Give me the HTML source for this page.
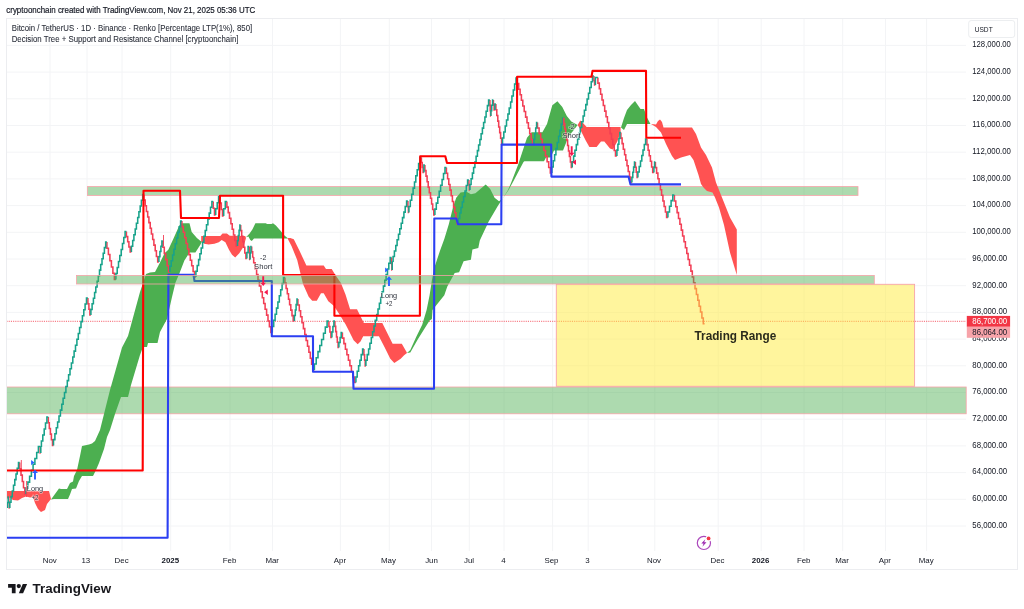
<!DOCTYPE html>
<html><head><meta charset="utf-8"><title>BTCUSDT chart</title>
<style>
html,body{margin:0;padding:0;background:#fff;}
body{width:1024px;height:609px;overflow:hidden;position:relative;font-family:"Liberation Sans",sans-serif;}
svg{position:absolute;left:0;top:0;will-change:transform;filter:blur(0.35px);}
text{font-family:"Liberation Sans",sans-serif;}
.g{stroke:#f3f4f6;stroke-width:1;}
.ax{font-size:8.2px;fill:#131722;}
.tx{font-size:7.9px;fill:#131722;}
.b{font-weight:bold;}
.mk{font-size:7.8px;fill:#2e323c;paint-order:stroke;stroke:#fff;stroke-opacity:.55;stroke-width:1.4px;}
</style></head><body>
<svg width="1024" height="609" viewBox="0 0 1024 609">
<rect x="0" y="0" width="1024" height="609" fill="#fff"/>
<line x1="50" y1="18.5" x2="50" y2="551" class="g"/>
<line x1="87" y1="18.5" x2="87" y2="551" class="g"/>
<line x1="122" y1="18.5" x2="122" y2="551" class="g"/>
<line x1="170.7" y1="18.5" x2="170.7" y2="551" class="g"/>
<line x1="230" y1="18.5" x2="230" y2="551" class="g"/>
<line x1="272.5" y1="18.5" x2="272.5" y2="551" class="g"/>
<line x1="340.4" y1="18.5" x2="340.4" y2="551" class="g"/>
<line x1="389.3" y1="18.5" x2="389.3" y2="551" class="g"/>
<line x1="431.5" y1="18.5" x2="431.5" y2="551" class="g"/>
<line x1="469.3" y1="18.5" x2="469.3" y2="551" class="g"/>
<line x1="504" y1="18.5" x2="504" y2="551" class="g"/>
<line x1="552.6" y1="18.5" x2="552.6" y2="551" class="g"/>
<line x1="588.2" y1="18.5" x2="588.2" y2="551" class="g"/>
<line x1="654.8" y1="18.5" x2="654.8" y2="551" class="g"/>
<line x1="718.2" y1="18.5" x2="718.2" y2="551" class="g"/>
<line x1="761.2" y1="18.5" x2="761.2" y2="551" class="g"/>
<line x1="804" y1="18.5" x2="804" y2="551" class="g"/>
<line x1="842.7" y1="18.5" x2="842.7" y2="551" class="g"/>
<line x1="885.5" y1="18.5" x2="885.5" y2="551" class="g"/>
<line x1="926.6" y1="18.5" x2="926.6" y2="551" class="g"/>
<line x1="6.5" y1="45.4" x2="966.0" y2="45.4" class="g"/>
<line x1="6.5" y1="72.1" x2="966.0" y2="72.1" class="g"/>
<line x1="6.5" y1="98.8" x2="966.0" y2="98.8" class="g"/>
<line x1="6.5" y1="125.5" x2="966.0" y2="125.5" class="g"/>
<line x1="6.5" y1="152.2" x2="966.0" y2="152.2" class="g"/>
<line x1="6.5" y1="178.9" x2="966.0" y2="178.9" class="g"/>
<line x1="6.5" y1="205.6" x2="966.0" y2="205.6" class="g"/>
<line x1="6.5" y1="232.3" x2="966.0" y2="232.3" class="g"/>
<line x1="6.5" y1="259.0" x2="966.0" y2="259.0" class="g"/>
<line x1="6.5" y1="285.7" x2="966.0" y2="285.7" class="g"/>
<line x1="6.5" y1="312.4" x2="966.0" y2="312.4" class="g"/>
<line x1="6.5" y1="339.1" x2="966.0" y2="339.1" class="g"/>
<line x1="6.5" y1="365.8" x2="966.0" y2="365.8" class="g"/>
<line x1="6.5" y1="392.5" x2="966.0" y2="392.5" class="g"/>
<line x1="6.5" y1="419.2" x2="966.0" y2="419.2" class="g"/>
<line x1="6.5" y1="445.9" x2="966.0" y2="445.9" class="g"/>
<line x1="6.5" y1="472.6" x2="966.0" y2="472.6" class="g"/>
<line x1="6.5" y1="499.3" x2="966.0" y2="499.3" class="g"/>
<line x1="6.5" y1="526.0" x2="966.0" y2="526.0" class="g"/>
<rect x="87.5" y="186.6" width="770.5" height="8.800000000000011" fill="#4caf50" fill-opacity="0.46" stroke="#f7a3a8" stroke-width="0.8"/>
<rect x="6.5" y="387.0" width="959.7" height="26.80000000000001" fill="#4caf50" fill-opacity="0.46" stroke="#f7a3a8" stroke-width="0.8"/>
<line x1="6.5" y1="321.3" x2="966.0" y2="321.3" stroke="#f23645" stroke-width="0.8" stroke-dasharray="1.1 1.1"/>
<polygon points="6.5,491.0 49.0,491.0 51.0,499.0 51.0,499.0 47.0,504.0 45.0,510.0 41.0,512.0 38.0,509.0 35.0,503.0 33.0,497.0 30.0,497.5 26.0,496.5 22.0,498.0 18.0,500.5 13.0,500.0 10.0,497.5 6.5,499.0" fill="#ff5252"/>
<polygon points="51.0,499.5 55.0,494.0 59.0,488.5 61.0,489.0 67.0,489.0 70.0,483.0 73.0,481.5 74.0,476.0 77.0,470.0 80.0,456.0 82.0,446.0 89.0,444.5 92.0,443.5 95.0,441.0 100.0,430.0 110.0,390.0 122.0,347.5 128.0,336.0 140.0,292.0 144.0,280.0 146.0,274.0 150.0,272.5 155.0,272.0 160.0,262.5 164.6,253.3 168.3,249.7 173.4,238.7 179.3,225.5 181.5,223.3 189.5,223.3 191.7,232.0 196.9,238.0 200.5,241.0 202.0,241.5 202.0,241.5 200.5,244.5 195.4,252.6 189.5,252.6 184.4,260.6 179.3,273.8 175.5,282.5 172.0,297.0 167.0,319.0 160.0,332.0 157.5,343.0 148.0,343.0 147.0,347.0 143.0,347.0 140.0,355.0 131.0,385.0 128.0,397.0 121.0,397.0 115.0,414.0 110.0,430.0 107.0,437.0 104.0,449.0 99.0,463.0 96.0,470.0 93.0,476.0 82.0,476.0 79.0,481.0 76.0,488.5 72.0,489.0 70.0,494.5 68.0,499.0 54.0,499.0 51.0,499.5" fill="#4caf50"/>
<polygon points="201.2,236.0 220.3,236.0 222.5,233.5 226.9,233.5 229.8,235.7 245.2,236.0 246.0,238.0 246.0,238.0 245.2,240.9 243.0,247.5 239.3,253.3 235.2,257.4 232.0,254.8 229.0,249.7 225.4,242.3 221.7,240.1 218.8,242.3 214.4,243.8 208.6,244.5 204.2,243.8 201.2,241.6" fill="#ff5252"/>
<polygon points="246.0,237.2 249.6,233.5 252.5,229.2 255.4,223.3 265.7,223.3 267.1,224.0 271.5,224.0 273.0,223.3 275.9,225.5 280.3,230.6 284.7,235.7 287.6,238.0 287.6,238.4 254.0,238.4 251.8,240.9 250.3,240.1 248.4,236.5 246.0,237.2" fill="#4caf50"/>
<polygon points="287.6,238.0 290.3,238.0 293.8,239.2 299.5,250.7 306.4,265.6 323.7,265.6 326.0,269.0 331.7,269.0 335.2,274.8 340.9,282.9 345.5,294.4 350.1,309.3 357.0,309.3 363.9,323.1 382.3,323.1 392.6,343.8 401.8,343.8 406.4,351.8 407.0,353.0 407.0,353.0 404.1,355.3 400.7,358.7 394.3,362.9 390.3,358.7 384.6,347.2 378.9,336.2 363.2,336.2 360.5,341.5 357.7,344.3 353.6,340.3 349.0,331.1 345.5,324.3 339.8,315.0 334.0,305.9 328.3,301.3 323.7,293.2 321.0,293.2 316.8,300.8 312.2,300.8 308.7,296.7 303.0,284.0 297.2,260.0 291.5,246.0 287.6,238.4" fill="#ff5252"/>
<polygon points="407.0,353.0 410.3,350.0 416.3,336.7 422.2,324.8 426.6,310.0 429.6,295.3 431.9,280.5 434.0,268.7 439.9,251.0 444.3,239.1 448.8,224.3 453.2,206.6 456.2,197.7 460.6,192.4 466.5,191.8 470.9,194.2 475.4,193.3 485.7,184.4 490.2,188.9 494.6,197.7 499.0,201.3 502.5,198.8 502.5,198.8 497.5,206.6 488.7,221.4 479.8,240.6 478.3,248.0 472.4,249.5 470.9,259.8 463.6,261.3 459.1,272.2 454.7,273.1 447.3,286.4 444.3,295.3 432.5,310.0 431.9,318.9 429.6,320.4 417.7,339.6 410.3,352.4 407.0,353.0" fill="#4caf50"/>
<polygon points="502.5,198.8 508.0,190.0 511.0,183.0 518.0,165.0 527.0,137.8 531.6,132.3 542.4,132.3 547.0,124.0 552.3,105.3 557.4,101.3 562.3,107.0 566.8,116.0 571.3,121.5 577.6,125.0 577.6,125.0 573.0,131.0 568.0,137.0 566.0,143.0 563.0,150.4 554.0,150.4 550.5,157.6 546.0,157.6 544.0,161.2 524.4,161.2 523.5,162.0 513.5,181.0 508.6,190.0 502.5,198.8" fill="#4caf50"/>
<polygon points="577.6,125.0 580.3,120.6 583.0,123.0 586.6,127.0 620.6,127.0 620.6,127.0 620.6,132.3 617.3,141.4 612.8,149.5 610.0,148.6 604.3,141.4 601.0,141.4 596.6,147.0 589.4,147.0 585.7,140.5 579.4,127.8 577.6,125.0" fill="#ff5252"/>
<polygon points="621.0,127.5 624.0,118.0 627.0,110.0 631.0,105.0 635.0,101.0 640.5,109.0 644.0,109.0 647.0,117.5 650.5,124.0 650.5,124.0 627.0,124.0 624.0,130.0 621.0,127.5" fill="#4caf50"/>
<polygon points="651.0,124.0 656.0,124.5 658.0,121.0 660.0,119.5 662.0,122.0 663.5,127.5 692.0,127.5 696.0,134.0 701.0,147.5 706.0,155.0 712.0,167.5 716.0,182.5 720.0,192.5 726.0,207.5 730.0,217.5 736.8,229.5 736.8,275.0 736.8,275.0 730.0,252.5 724.0,225.0 719.0,207.5 715.0,197.5 712.5,192.5 707.0,191.0 703.5,187.5 701.0,184.0 698.5,175.0 693.5,160.0 690.0,155.0 681.0,157.5 675.0,160.0 672.0,156.0 666.0,144.0 661.0,132.5 656.0,127.0 651.0,124.0" fill="#ff5252"/>
<path d="M8.8,497.0V502.5H9.3V508.0H9.8M19.7,462.5V468.8H21.0V475.1H22.3V481.4H23.5V487.7H24.8V494.0H26.1M40.2,446.5V453.0H40.8M48.3,417.0V422.7H49.3V428.4H50.4V434.1H51.4V439.8H52.5V445.5H53.5M87.9,298.0V303.7H88.9V309.3H89.9V315.0H90.9M106.9,242.0V248.2H108.4V254.5H109.9V260.8H111.4V267.0H112.9V273.2H114.4V279.5H115.9M126.4,231.5V236.6H127.7V241.8H128.9V246.9H130.2V252.0H131.4M143.9,194.5V200.1H145.2V205.8H146.4V211.4H147.7V217.0H148.9V222.6H150.2V228.2H151.4V233.9H152.7V239.5H153.9V245.1H155.2V250.8H156.4V256.4H157.7V262.0H158.9M162.9,241.0V247.2H164.3V253.4H165.7V259.6H167.1V265.8H168.5V272.0H169.9M181.9,221.0V226.6H183.3V232.2H184.7V237.8H186.1V243.4H187.5V249.0H188.9V254.6H190.3V260.2H191.7V265.8H193.1V271.4H194.5V277.0H195.9M213.2,201.5V208.2H214.5V215.0H215.7M220.1,196.5V203.0H221.3V209.5H222.5V216.0H223.7M226.9,201.5V207.1H228.2V212.6H229.5V218.2H230.9V223.8H232.2V229.3H233.5V234.9H234.8V240.4H236.2V246.0H237.5M240.7,225.0V230.6H241.7V236.2H242.8V241.8H243.8V247.3H244.8V252.9H245.9V258.5H246.9M249.2,246.5V253.0H249.7V259.5H250.1M251.7,246.5V251.8H252.7V257.0H253.7M253.7,257.0V262.8H255.1V268.6H256.6V274.4H258.0V280.2H259.4V286.0H260.9V291.8H262.3V297.7H263.7V303.5H265.1V309.3H266.6V315.1H268.0V320.9H269.4V326.7H270.9V332.5H272.3M284.9,277.5V282.9H286.1V288.4H287.3V293.8H288.5V299.2H289.6V304.7H290.8V310.1H292.0V315.6H293.2V321.0H294.4M297.9,299.0V304.9H299.3V310.8H300.6V316.8H302.0V322.7H303.4V328.6H304.8V334.5H306.1V340.4H307.5V346.3H308.9V352.3H310.3V358.2H311.6V364.1H313.0V370.0H314.4M328.9,321.0V326.5H329.9V332.0H330.9V337.5H331.9M334.9,321.0V326.3H335.7V331.6H336.5V336.9H337.3V342.2H338.1V347.5H338.9M342.4,332.5V338.1H343.9V343.6H345.4V349.2H346.9V354.7H348.4V360.3H349.9V365.8H351.4V371.4H352.9V376.9H354.4V382.5H355.9M363.9,349.0V354.7H364.6V360.3H365.2V366.0H365.9M391.5,257.5V263.8H391.9V270.0H392.2M407.9,201.0V206.8H408.4V212.5H408.9M421.4,157.5V162.5H422.2V167.5H423.1V172.5H423.9M424.9,165.0V170.6H426.0V176.1H427.1V181.7H428.2V187.2H429.3V192.8H430.5V198.3H431.6V203.9H432.7V209.4H433.8V215.0H434.9M446.4,167.5V173.2H447.6V178.8H448.8V184.5H450.0V190.1H451.2V195.8H452.4V201.4H453.6V207.1H454.8V212.7H456.0V218.4H457.2V224.0H458.4M468.9,180.0V185.0H469.4V190.0H469.9M489.9,100.0V105.3H490.2V110.7H490.6V116.0H490.9M493.4,100.0V105.0H494.1V110.0H494.9M495.9,104.0V109.7H496.8V115.4H497.8V121.1H498.7V126.9H499.7V132.6H500.6V138.3H501.6V144.0H502.5M517.3,78.0V83.6H518.7V89.2H520.1V94.7H521.4V100.3H522.8V105.9H524.2V111.5H525.6V117.1H527.0V122.7H528.4V128.2H529.7V133.8H531.1V139.4H532.5V145.0H533.9M537.5,122.4V128.0H539.1V133.6H540.7V139.3H542.3V144.9H543.9V150.5H545.5V156.1H547.1V161.8H548.7V167.4H550.3V173.0H551.9M563.9,118.0V123.5H564.8V129.0H565.7V134.5H566.7V140.0H567.6V145.5H568.5V151.0H569.4V156.5H570.4V162.0H571.3V167.5H572.2M593.9,76.0V80.5H594.6V85.0H595.4M597.9,77.5V83.1H599.3V88.7H600.6V94.3H602.0V99.9H603.3V105.5H604.7V111.1H606.0V116.8H607.4V122.4H608.8V128.0H610.1V133.6H611.5V139.2H612.8V144.8H614.2V150.4H615.5V156.0H616.9M620.9,132.5V138.1H622.1V143.6H623.3V149.2H624.6V154.7H625.8V160.3H627.0V165.8H628.2V171.4H629.5V176.9H630.7V182.5H631.9M635.4,162.0V167.2H636.2V172.3H637.1V177.5H637.9M646.9,139.0V144.6H648.1V150.2H649.2V155.8H650.4V161.3H651.6V166.9H652.7V172.5H653.9M655.4,162.0V167.6H656.6V173.1H657.9V178.7H659.1V184.2H660.4V189.8H661.6V195.3H662.9V200.9H664.1V206.4H665.4V212.0H666.6V217.5H667.9M674.4,195.0V200.9H675.8V206.7H677.1V212.6H678.5V218.4H679.9V224.3H681.3V230.1H682.6V236.0H684.0V241.8H685.4V247.7H686.8V253.5H688.1V259.4H689.5V265.2H690.9V271.1H692.3V276.9H693.6V282.8H695.0V288.6H696.4V294.5H697.8V300.3H699.1V306.2H700.5V312.0H701.9V317.9H703.3V323.8H704.6" fill="none" stroke="#f23e55" stroke-width="1.55"/>
<path d="M7.6,508.0V502.5H8.2V497.0H8.8M9.8,508.0V502.3H11.0V496.6H12.3V490.9H13.5V485.2H14.8V479.6H16.0V473.9H17.2V468.2H18.5V462.5H19.7M26.1,494.0V488.1H27.9V482.1H29.6V476.2H31.4V470.2H33.1V464.3H34.9V458.4H36.7V452.4H38.4V446.5H40.2M40.8,453.0V447.0H41.4M41.4,447.0V441.0H42.8V435.0H44.2V429.0H45.5V423.0H46.9V417.0H48.3M53.5,445.5V439.6H54.9V433.7H56.3V427.8H57.6V421.9H59.0V416.0H60.4V410.1H61.8V404.2H63.1V398.3H64.5V392.4H65.9V386.5H67.3V380.6H68.6V374.7H70.0V368.8H71.4V362.9H72.8V357.0H74.1V351.1H75.5V345.2H76.9V339.3H78.3V333.4H79.6V327.5H81.0V321.6H82.4V315.7H83.8V309.8H85.1V303.9H86.5V298.0H87.9M90.9,315.0V309.4H92.1V303.8H93.4V298.2H94.6V292.5H95.8V286.9H97.1V281.3H98.3V275.7H99.5V270.1H100.7V264.5H102.0V258.8H103.2V253.2H104.4V247.6H105.7V242.0H106.9M115.9,279.5V273.5H117.2V267.5H118.5V261.5H119.8V255.5H121.2V249.5H122.5V243.5H123.8V237.5H125.1V231.5H126.4M131.4,252.0V246.2H132.7V240.5H133.9V234.8H135.2V229.0H136.4V223.2H137.7V217.5H138.9V211.8H140.2V206.0H141.4V200.2H142.7V194.5H143.9M158.9,262.0V256.8H159.9V251.5H160.9V246.2H161.9V241.0H162.9M169.9,272.0V266.3H171.2V260.7H172.6V255.0H173.9V249.3H175.2V243.7H176.6V238.0H177.9V232.3H179.2V226.7H180.6V221.0H181.9M195.9,277.0V271.2H197.2V265.4H198.6V259.6H199.9V253.8H201.2V248.0H202.6V242.2H203.9V236.3H205.2V230.5H206.5V224.7H207.9V218.9H209.2V213.1H210.5V207.3H211.9V201.5H213.2M215.7,215.0V208.8H217.2V202.7H218.6V196.5H220.1M223.7,216.0V208.8H225.3V201.5H226.9M237.5,246.0V240.8H238.3V235.5H239.1V230.2H239.9V225.0H240.7M246.9,258.5V252.5H248.1V246.5H249.2M250.1,259.5V253.0H250.9V246.5H251.7M272.3,332.5V326.4H273.7V320.3H275.1V314.2H276.5V308.1H277.9V301.9H279.3V295.8H280.7V289.7H282.1V283.6H283.5V277.5H284.9M294.4,321.0V315.5H295.3V310.0H296.1V304.5H297.0V299.0H297.9M314.4,370.0V363.9H316.2V357.8H318.0V351.6H319.8V345.5H321.6V339.4H323.5V333.2H325.3V327.1H327.1V321.0H328.9M331.9,337.5V332.0H332.9V326.5H333.9V321.0H334.9M338.9,347.5V342.5H340.1V337.5H341.2V332.5H342.4M355.9,382.5V376.9H357.2V371.3H358.6V365.8H359.9V360.2H361.2V354.6H362.6V349.0H363.9M365.9,366.0V360.3H367.2V354.6H368.6V348.9H369.9V343.2H371.3V337.4H372.6V331.7H374.0V326.0H375.3V320.3H376.7V314.6H378.0V308.9H379.4V303.2H380.7V297.5H382.1V291.8H383.4V286.1H384.8V280.3H386.1V274.6H387.5V268.9H388.8V263.2H390.2V257.5H391.5M392.2,270.0V262.0H393.1M393.1,262.0V256.5H394.4V250.9H395.8V245.4H397.1V239.8H398.5V234.3H399.8V228.7H401.2V223.2H402.5V217.6H403.9V212.1H405.2V206.5H406.6V201.0H407.9M408.9,212.5V206.4H410.3V200.3H411.7V194.2H413.1V188.1H414.5V181.9H415.8V175.8H417.2V169.7H418.6V163.6H420.0V157.5H421.4M423.9,172.5V165.0H424.9M434.9,215.0V209.1H436.3V203.1H437.8V197.2H439.2V191.2H440.6V185.3H442.1V179.4H443.5V173.4H445.0V167.5H446.4M458.4,224.0V218.5H459.7V213.0H461.0V207.5H462.3V202.0H463.6V196.5H465.0V191.0H466.3V185.5H467.6V180.0H468.9M469.9,190.0V184.4H471.1V178.8H472.4V173.1H473.6V167.5H474.9V161.9H476.1V156.2H477.4V150.6H478.6V145.0H479.9V139.4H481.1V133.8H482.4V128.1H483.6V122.5H484.9V116.9H486.1V111.2H487.4V105.6H488.6V100.0H489.9M490.9,116.0V110.7H491.7V105.3H492.6V100.0H493.4M494.9,110.0V104.0H495.9M502.5,144.0V138.0H503.8V132.0H505.2V126.0H506.5V120.0H507.9V114.0H509.2V108.0H510.6V102.0H511.9V96.0H513.3V90.0H514.6V84.0H516.0V78.0H517.3M533.9,145.0V139.3H534.8V133.7H535.7V128.0H536.6V122.4H537.5M551.9,173.0V166.9H553.2V160.8H554.6V154.7H555.9V148.6H557.2V142.4H558.6V136.3H559.9V130.2H561.2V124.1H562.6V118.0H563.9M572.2,167.5V161.8H573.6V156.1H574.9V150.3H576.3V144.6H577.6V138.9H579.0V133.2H580.3V127.5H581.7V121.8H583.1V116.0H584.4V110.3H585.8V104.6H587.1V98.9H588.5V93.2H589.8V87.4H591.2V81.7H592.5V76.0H593.9M595.4,85.0V77.5H597.9M616.9,156.0V150.1H617.9V144.2H618.9V138.4H619.9V132.5H620.9M631.9,182.5V177.4H632.8V172.2H633.6V167.1H634.5V162.0H635.4M637.9,177.5V172.0H639.2V166.5H640.5V161.0H641.8V155.5H643.0V150.0H644.3V144.5H645.6V139.0H646.9M653.9,172.5V167.2H654.6V162.0H655.4M667.9,217.5V211.9H669.5V206.2H671.1V200.6H672.8V195.0H674.4" fill="none" stroke="#17a28a" stroke-width="1.55"/>
<line x1="21.3" y1="460" x2="21.3" y2="471" stroke="#f23e55" stroke-width="0.9"/>
<line x1="163.5" y1="235" x2="163.5" y2="246" stroke="#f23e55" stroke-width="0.9"/>
<line x1="563.4" y1="117.5" x2="563.4" y2="126" stroke="#f23e55" stroke-width="0.9"/>
<line x1="26.6" y1="481" x2="26.6" y2="497" stroke="#f23e55" stroke-width="0.9"/>
<polyline points="6.5,537.8 167.6,537.8 168.4,274.8 193.5,274.8 194.5,281 271.8,281 271.8,336.3 313,336.3 313,371.8 353,371.8 353.5,388.8 434.0,388.8 434.3,218.5 456.3,218.5 458,224.3 501.3,224.3 501.6,144.6 551.2,144.6 551.4,176.6 628.5,176.6 630.5,184.4 681,184.4" fill="none" stroke="#2b3ff2" stroke-width="2.1" stroke-linejoin="round"/>
<polyline points="6.5,470.5 142.7,470.5 143.5,190.8 180,190.8 181,218 219,218 220,195.8 283.1,195.8 283.1,275 334.4,275 334.4,315.7 419.9,315.7 420.2,156.3 445.3,156.3 447,163 517.0,163 517.1,76.8 591.5,76.8 592.5,70.9 646,70.9 646.3,137.8 681,137.8" fill="none" stroke="#ff0000" stroke-width="2.1" stroke-linejoin="round"/>
<rect x="76.5" y="275.4" width="797.8" height="8.600000000000023" fill="#4caf50" fill-opacity="0.46" stroke="#f7a3a8" stroke-width="0.8"/>
<rect x="556.3" y="284.3" width="358.3" height="102" fill="#ffeb3b" fill-opacity="0.5" stroke="#f7a3a8" stroke-width="0.9"/>
<path d="M31.1,460.0L34.4,462.6L31.1,465.20000000000005Z" fill="#2962ff"/>
<path d="M35,469.7L38,473.09999999999997H35.95V479.4H34.05V473.09999999999997H32Z" fill="#2962ff"/>
<text x="35" y="491" text-anchor="middle" class="mk" textLength="16.3" lengthAdjust="spacingAndGlyphs">Long</text>
<text x="35" y="499.9" text-anchor="middle" class="mk" textLength="7" lengthAdjust="spacingAndGlyphs">+2</text>
<path d="M385.1,267.4L388.40000000000003,270L385.1,272.6Z" fill="#2962ff"/>
<path d="M389,276.3L392,279.7H389.95V286.0H388.05V279.7H386Z" fill="#2962ff"/>
<text x="389" y="297.5" text-anchor="middle" class="mk" textLength="16.3" lengthAdjust="spacingAndGlyphs">Long</text>
<text x="389" y="306.4" text-anchor="middle" class="mk" textLength="7" lengthAdjust="spacingAndGlyphs">+2</text>
<path d="M267.8,289.4L264.1,292.2L267.8,295.0Z" fill="#f5194e"/>
<path d="M262.25,276.3H264.15V282.7H265.9L263.2,285.90000000000003L260.5,282.7H262.25Z" fill="#f5194e"/>
<text x="263.2" y="259.7" text-anchor="middle" class="mk" textLength="6.2" lengthAdjust="spacingAndGlyphs">-2</text>
<text x="263.2" y="268.9" text-anchor="middle" class="mk" textLength="18.2" lengthAdjust="spacingAndGlyphs">Short</text>
<path d="M576,159.39999999999998L572.3,162.2L576,165.0Z" fill="#f5194e"/>
<path d="M570.75,146.3H572.6500000000001V152.70000000000002H574.4000000000001L571.7,155.9L569.0,152.70000000000002H570.75Z" fill="#f5194e"/>
<text x="571.5" y="129" text-anchor="middle" class="mk" textLength="6.2" lengthAdjust="spacingAndGlyphs">-2</text>
<text x="571.5" y="138.2" text-anchor="middle" class="mk" textLength="18.2" lengthAdjust="spacingAndGlyphs">Short</text>
<rect x="6.5" y="18.5" width="1011.0" height="551.0" fill="none" stroke="#ecedf0" stroke-width="1"/>
<text x="49.8" y="563.3" text-anchor="middle" class="tx">Nov</text><text x="85.8" y="563.3" text-anchor="middle" class="tx">13</text><text x="121.6" y="563.3" text-anchor="middle" class="tx">Dec</text><text x="170.3" y="563.3" text-anchor="middle" class="tx b">2025</text><text x="229.5" y="563.3" text-anchor="middle" class="tx">Feb</text><text x="272.2" y="563.3" text-anchor="middle" class="tx">Mar</text><text x="340" y="563.3" text-anchor="middle" class="tx">Apr</text><text x="388.5" y="563.3" text-anchor="middle" class="tx">May</text><text x="431.5" y="563.3" text-anchor="middle" class="tx">Jun</text><text x="469" y="563.3" text-anchor="middle" class="tx">Jul</text><text x="503.4" y="563.3" text-anchor="middle" class="tx">4</text><text x="551.5" y="563.3" text-anchor="middle" class="tx">Sep</text><text x="587.5" y="563.3" text-anchor="middle" class="tx">3</text><text x="654" y="563.3" text-anchor="middle" class="tx">Nov</text><text x="717.5" y="563.3" text-anchor="middle" class="tx">Dec</text><text x="760.6" y="563.3" text-anchor="middle" class="tx b">2026</text><text x="803.7" y="563.3" text-anchor="middle" class="tx">Feb</text><text x="842" y="563.3" text-anchor="middle" class="tx">Mar</text><text x="884.8" y="563.3" text-anchor="middle" class="tx">Apr</text><text x="926.2" y="563.3" text-anchor="middle" class="tx">May</text>
<text x="972.3" y="47.2" class="ax" textLength="38.6" lengthAdjust="spacingAndGlyphs">128,000.00</text><text x="972.3" y="73.9" class="ax" textLength="38.6" lengthAdjust="spacingAndGlyphs">124,000.00</text><text x="972.3" y="100.6" class="ax" textLength="38.6" lengthAdjust="spacingAndGlyphs">120,000.00</text><text x="972.3" y="127.3" class="ax" textLength="38.6" lengthAdjust="spacingAndGlyphs">116,000.00</text><text x="972.3" y="154.0" class="ax" textLength="38.6" lengthAdjust="spacingAndGlyphs">112,000.00</text><text x="972.3" y="180.7" class="ax" textLength="38.6" lengthAdjust="spacingAndGlyphs">108,000.00</text><text x="972.3" y="207.4" class="ax" textLength="38.6" lengthAdjust="spacingAndGlyphs">104,000.00</text><text x="972.3" y="234.1" class="ax" textLength="38.6" lengthAdjust="spacingAndGlyphs">100,000.00</text><text x="972.3" y="260.8" class="ax" textLength="34.8" lengthAdjust="spacingAndGlyphs">96,000.00</text><text x="972.3" y="287.5" class="ax" textLength="34.8" lengthAdjust="spacingAndGlyphs">92,000.00</text><text x="972.3" y="314.2" class="ax" textLength="34.8" lengthAdjust="spacingAndGlyphs">88,000.00</text><text x="972.3" y="340.9" class="ax" textLength="34.8" lengthAdjust="spacingAndGlyphs">84,000.00</text><text x="972.3" y="367.6" class="ax" textLength="34.8" lengthAdjust="spacingAndGlyphs">80,000.00</text><text x="972.3" y="394.3" class="ax" textLength="34.8" lengthAdjust="spacingAndGlyphs">76,000.00</text><text x="972.3" y="421.0" class="ax" textLength="34.8" lengthAdjust="spacingAndGlyphs">72,000.00</text><text x="972.3" y="447.7" class="ax" textLength="34.8" lengthAdjust="spacingAndGlyphs">68,000.00</text><text x="972.3" y="474.4" class="ax" textLength="34.8" lengthAdjust="spacingAndGlyphs">64,000.00</text><text x="972.3" y="501.1" class="ax" textLength="34.8" lengthAdjust="spacingAndGlyphs">60,000.00</text><text x="972.3" y="527.8" class="ax" textLength="34.8" lengthAdjust="spacingAndGlyphs">56,000.00</text>
<rect x="968.7" y="20.5" width="46" height="17" rx="2.5" fill="#fff" stroke="#eceef0" stroke-width="1"/>
<text x="974.7" y="32" class="ax" style="font-size:8px" textLength="18" lengthAdjust="spacingAndGlyphs">USDT</text>
<rect x="966.8" y="315.9" width="43.3" height="10.9" fill="#f23645"/>
<rect x="966.8" y="326.8" width="43.3" height="11" fill="#f7a3a9"/>
<text x="972.3" y="324.2" class="ax" style="fill:#fff" textLength="34.8" lengthAdjust="spacingAndGlyphs">86,700.00</text>
<text x="972.3" y="335.2" class="ax" textLength="34.8" lengthAdjust="spacingAndGlyphs">86,064.00</text>
<text x="694.5" y="339.6" style="font-size:13px;font-weight:bold;fill:#2b2b1c" textLength="81.8" lengthAdjust="spacingAndGlyphs">Trading Range</text>
<!-- purple flash icon -->
<g>
<circle cx="703.9" cy="542.9" r="6.6" fill="none" stroke="#ab47bc" stroke-width="1.2"/>
<circle cx="708.6" cy="538.4" r="3" fill="#fff"/>
<circle cx="708.6" cy="538.4" r="1.9" fill="#f23645"/>
<path d="M705.3,539.3L701.3,543.6H703.6L702.4,546.8L706.5,542.3H704.2Z" fill="#9c27b0"/>
</g>
<!-- header texts -->
<text x="6.3" y="12.7" style="font-size:9.8px;fill:#131722;stroke:#131722;stroke-width:0.2px" textLength="249" lengthAdjust="spacingAndGlyphs">cryptoonchain created with TradingView.com, Nov 21, 2025 05:36 UTC</text>
<text x="11.7" y="30.5" style="font-size:8.9px;fill:#2a2e39;stroke:#2a2e39;stroke-width:0.08px" textLength="240.5" lengthAdjust="spacingAndGlyphs">Bitcoin / TetherUS · 1D · Binance · Renko [Percentage LTP(1%), 850]</text>
<text x="11.7" y="41.9" style="font-size:8.9px;fill:#2a2e39;stroke:#2a2e39;stroke-width:0.08px" textLength="226.8" lengthAdjust="spacingAndGlyphs">Decision Tree + Support and Resistance Channel [cryptoonchain]</text>
<!-- TradingView logo -->
<g transform="translate(8.1,582.05) scale(0.5352,0.5083)" fill="#17171c">
<path d="M14 22H7V11H0V4h14v18z"/><circle cx="20" cy="8" r="4"/><path d="M28 22h-8l7.5-18h8L28 22z"/>
</g>
<text x="32.6" y="593.3" style="font-size:12.2px;font-weight:bold;fill:#17171c" textLength="78.6" lengthAdjust="spacingAndGlyphs">TradingView</text>
</svg>
</body></html>
